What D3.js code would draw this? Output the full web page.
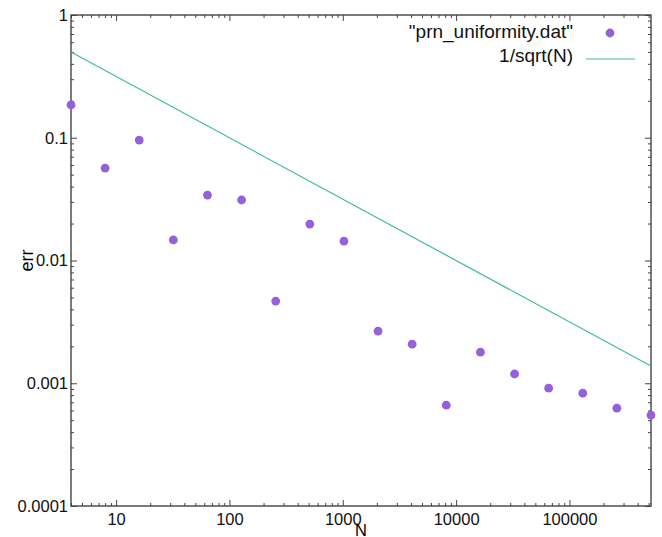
<!DOCTYPE html>
<html>
<head>
<meta charset="utf-8">
<script src="https://cdn.jsdelivr.net/npm/d3@7"></script>
<style>
  body { margin: 0; background: #fff; }
  svg { display: block; font-family: "Liberation Sans", Arial, sans-serif; }
</style>
</head>
<body>
<div class="chart"></div>
<script>
// ===== err vs N, log-log, gnuplot look =====

const sampleN = [4, 8, 16, 32, 64, 128, 256, 512, 1024, 2048, 4096, 8192,
  16384, 32768, 65536, 131072, 262144, 524288]
const sampleErr = [0.185, 0.0566, 0.0958, 0.0147, 0.0341, 0.0311, 0.00467, 0.0198,
  0.0144, 0.00266, 0.00208, 0.000663, 0.00179, 0.00119, 0.000912, 0.00083,
  0.000627, 0.00055]

// reference curve 1/sqrt(N), end points
const curveN = [4, 524288]
const curveErr = [0.5, 0.00138]

const xTicks = [10, 100, 1000, 10000, 100000]
const xTickLabels = ['10', '100', '1000', '10000', '100000']
const yTicks = [0.0001, 0.001, 0.01, 0.1, 1]
const yTickLabels = ['0.0001', '0.001', '0.01', '0.1', '1']

const legendLabels = ['"prn_uniformity.dat"', '1/sqrt(N)']

const W = 662
const H = 537
const margin = { top: 15, right: 11, bottom: 31, left: 71 }
const width = W - margin.left - margin.right
const height = H - margin.top - margin.bottom

const dotColor = '#9660da'
const lineColor = '#3dbd97'
const axisColor = '#444'

const svg = d3.select('.chart')
  .append('svg')
    .attr('width', W)
    .attr('height', H)

const g = svg.append('g')
  .attr('transform', `translate(${margin.left}, ${margin.top})`)

const xScale = d3.scaleLog()
  .domain([4, 524288])
  .range([0, width])

const yScale = d3.scaleLog()
  .domain([0.0001, 1])
  .range([height, 0])

// minor ticks: 2..9 of each decade, inside the domain
function minors(scale) {
  const [a, b] = scale.domain()
  const out = []
  for (let e = Math.floor(Math.log10(a)); e <= Math.ceil(Math.log10(b)); e++) {
    for (let k = 2; k <= 9; k++) {
      const v = k * Math.pow(10, e)
      if (v >= a && v <= b) out.push(v)
    }
  }
  return out
}

function styleAxis(sel) {
  sel.select('.domain').remove()
  sel.selectAll('line').attr('stroke', axisColor).attr('stroke-width', 1)
  sel.selectAll('text')
    .attr('fill', '#111')
    .style('font-size', '16.5px')
}

// bottom (with labels)
g.append('g')
  .attr('transform', `translate(0, ${height})`)
  .call(d3.axisBottom(xScale).tickValues(xTicks).tickSize(-6).tickPadding(7.5)
    .tickFormat((d, i) => xTickLabels[i]))
  .call(styleAxis)
g.append('g')
  .attr('transform', `translate(0, ${height})`)
  .call(d3.axisBottom(xScale).tickValues(minors(xScale)).tickSize(-3).tickFormat(''))
  .call(styleAxis)

// top mirror
g.append('g')
  .call(d3.axisTop(xScale).tickValues(xTicks).tickSize(-6).tickFormat(''))
  .call(styleAxis)
g.append('g')
  .call(d3.axisTop(xScale).tickValues(minors(xScale)).tickSize(-3).tickFormat(''))
  .call(styleAxis)

// left (with labels)
g.append('g')
  .call(d3.axisLeft(yScale).tickValues(yTicks).tickSize(-6).tickPadding(3)
    .tickFormat((d, i) => yTickLabels[i]))
  .call(styleAxis)
g.append('g')
  .call(d3.axisLeft(yScale).tickValues(minors(yScale)).tickSize(-3).tickFormat(''))
  .call(styleAxis)

// right mirror
g.append('g')
  .attr('transform', `translate(${width}, 0)`)
  .call(d3.axisRight(yScale).tickValues(yTicks).tickSize(-6).tickFormat(''))
  .call(styleAxis)
g.append('g')
  .attr('transform', `translate(${width}, 0)`)
  .call(d3.axisRight(yScale).tickValues(minors(yScale)).tickSize(-3).tickFormat(''))
  .call(styleAxis)

// frame
g.append('rect')
  .attr('width', width)
  .attr('height', height)
  .attr('fill', 'none')
  .attr('stroke', axisColor)
  .attr('stroke-width', 1.4)

// axis titles
g.append('text')
  .attr('x', width / 2)
  .attr('y', height + 30)
  .attr('text-anchor', 'middle')
  .style('font-size', '16.5px')
  .text('N')

g.append('text')
  .attr('transform', `translate(${-38}, ${height / 2}) rotate(-90)`)
  .attr('text-anchor', 'middle')
  .style('font-size', '18px')
  .text('err')

// 1/sqrt(N) curve
const line = d3.line()
  .x((d, i) => xScale(curveN[i]))
  .y(d => yScale(d))

g.append('path')
  .datum(curveErr)
  .attr('d', line)
  .attr('fill', 'none')
  .attr('stroke', lineColor)
  .attr('stroke-width', 1.2)

// data points
g.selectAll('.dot')
  .data(sampleErr)
  .join('circle')
    .attr('class', 'dot')
    .attr('cx', (d, i) => xScale(sampleN[i]))
    .attr('cy', d => yScale(d))
    .attr('r', 4.4)
    .attr('fill', dotColor)

// legend
const legend = svg.append('g')
legend.selectAll('text')
  .data(legendLabels)
  .join('text')
    .attr('x', 573)
    .attr('y', (d, i) => 38 + i * 24)
    .attr('text-anchor', 'end')
    .style('font-size', '19px')
    .attr('fill', '#111')
    .text(d => d)

legend.append('circle')
  .attr('cx', 610)
  .attr('cy', 33)
  .attr('r', 4.4)
  .attr('fill', dotColor)

legend.append('line')
  .attr('x1', 586)
  .attr('x2', 635)
  .attr('y1', 59)
  .attr('y2', 59)
  .attr('stroke', lineColor)
  .attr('stroke-width', 1.2)
</script>
</body>
</html>
